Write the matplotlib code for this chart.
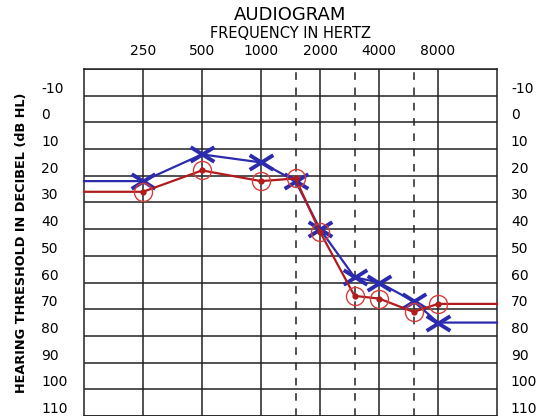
import matplotlib
matplotlib.use("Agg")
import matplotlib.pyplot as plt
from matplotlib.path import Path

# audiogram readings (dB HL); first/last points carry the line to the chart edges
freqs = [125, 250, 500, 1000, 1500, 2000, 3000, 4000, 6000, 8000, 16000]
blue_db = [22, 22, 12, 15, 22, 40, 58, 60, 67, 75, 75]
red_db = [26, 26, 18, 22, 21, 41, 65, 66, 71, 68, 68]

octave_freqs = [250, 500, 1000, 2000, 4000, 8000]
mid_freqs = [1500, 3000, 6000]
db_levels = list(range(-20, 111, 10))
db_labels = list(range(-10, 111, 10))

blue = "#2b2bae"
red = "#b01c1c"

fig = plt.figure(figsize=(5.44, 4.16), dpi=100)
ax = fig.add_axes([84 / 544, 0, (497 - 84) / 544, (416 - 69) / 416])
ax.set_xscale("log", base=2)
ax.set_xlim(125, 16000)
ax.set_ylim(110, -20)

# grid
for f in octave_freqs:
    ax.axvline(f, color="#222222", lw=1.1, zorder=1)
for f in mid_freqs:
    ax.axvline(f, color="#222222", lw=1.1, ls=(0, (5, 5)), zorder=1)
for d in db_levels:
    ax.axhline(d, color="#222222", lw=1.1, zorder=1)
for s in ax.spines.values():
    s.set_color("#222222")
    s.set_linewidth(1.1)

# frequency labels on top
ax.xaxis.tick_top()
ax.set_xticks(octave_freqs)
ax.set_xticklabels([str(f) for f in octave_freqs])
ax.minorticks_off()
ax.tick_params(axis="x", length=0, pad=8, labelsize=10)

# dB labels, left side (left aligned, a bit above each line)
ax.set_yticks(db_labels)
ax.set_yticklabels([str(d) for d in db_labels])
ax.tick_params(axis="y", length=0, labelsize=10, pad=31)
for lbl in ax.get_yticklabels():
    lbl.set_ha("left")
    lbl.set_va("bottom")

# dB labels, right side
ax2 = ax.twinx()
ax2.set_ylim(ax.get_ylim())
ax2.set_yticks(db_labels)
ax2.set_yticklabels([str(d) for d in db_labels])
ax2.tick_params(axis="y", length=0, labelsize=10, pad=10)
for lbl in ax2.get_yticklabels():
    lbl.set_va("bottom")
for s in ax2.spines.values():
    s.set_visible(False)

# wide flat cross marker
xmark = Path([(-1, -0.62), (1, 0.62), (-1, 0.62), (1, -0.62)],
             [Path.MOVETO, Path.LINETO, Path.MOVETO, Path.LINETO])

ax.plot(freqs, blue_db, color=blue, lw=1.6, zorder=3, clip_on=False)
ax.plot(freqs[1:-1], blue_db[1:-1], ls="none", marker=xmark, ms=17,
        mec=blue, mew=2.8, zorder=4)
ax.plot(freqs, red_db, color=red, lw=1.6, zorder=5, clip_on=False)
ax.plot(freqs[1:-1], red_db[1:-1], ls="none", marker="o", ms=13,
        mfc="none", mec="#d43c3c", mew=1.0, zorder=6)
ax.plot(freqs[1:-1], red_db[1:-1], ls="none", marker="o", ms=3.5,
        color=red, zorder=6)

fig.text(290 / 544, 1 - 15 / 416, "AUDIOGRAM", ha="center", va="center", fontsize=13)
fig.text(290 / 544, 1 - 34 / 416, "FREQUENCY IN HERTZ", ha="center", va="center", fontsize=10.5)
fig.text(22 / 544, 1 - 243 / 416, "HEARING THRESHOLD IN DECIBEL (dB HL)",
         rotation=90, ha="center", va="center", fontsize=9.3, fontweight="bold")

fig.savefig("out.png", dpi=100)
